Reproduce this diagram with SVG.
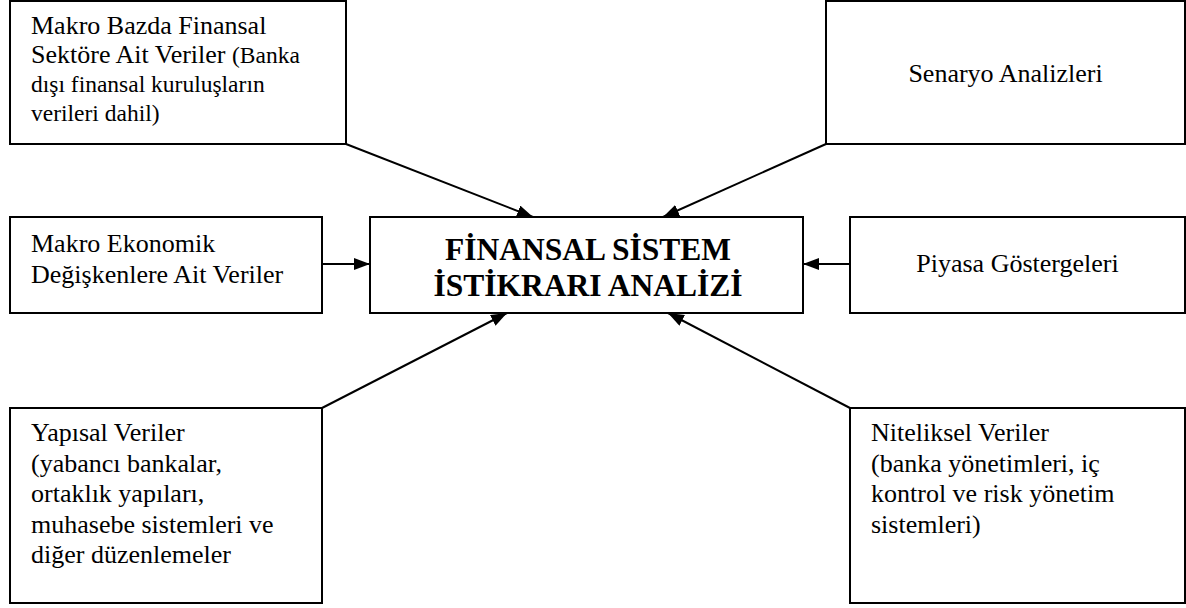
<svg xmlns="http://www.w3.org/2000/svg" width="1186" height="608" viewBox="0 0 1186 608">
<style>
.box{fill:#fff;stroke:#000;stroke-width:2}
.t{font-family:'Liberation Serif','Times New Roman',Times,serif;font-size:26px;fill:#000}
.s{font-size:23.5px}
.b{font-family:'Liberation Serif','Times New Roman',Times,serif;font-size:31.5px;font-weight:bold;fill:#000}
.c{stroke:#000;stroke-width:2;fill:none;marker-end:url(#ah)}
</style>
<defs>
<marker id="ah" markerUnits="userSpaceOnUse" markerWidth="18" markerHeight="14" refX="16" refY="6" orient="auto">
<path d="M0,0 L16,6 L0,12 z" fill="#000"/>
</marker>
</defs>
<rect width="1186" height="608" fill="#fff"/>
<g id="connectors">
<line class="c" x1="346" y1="144" x2="533" y2="217"/>
<line class="c" x1="826" y1="144" x2="663" y2="217"/>
<line class="c" x1="322" y1="264" x2="370" y2="264"/>
<line class="c" x1="850" y1="264" x2="803" y2="264"/>
<line class="c" x1="322" y1="408" x2="507" y2="313"/>
<line class="c" x1="850" y1="408" x2="668" y2="313"/>
</g>
<g id="makro-bazda">
<rect class="box" x="10" y="1" width="336" height="143"/>
<text class="t" x="31" y="34">Makro Bazda Finansal</text>
<text class="t" x="31" y="63">Sektöre Ait Veriler <tspan class="s">(Banka</tspan></text>
<text class="t s" x="31" y="92">dışı finansal kuruluşların</text>
<text class="t s" x="31" y="121">verileri dahil)</text>
</g>
<g id="senaryo">
<rect class="box" x="826" y="1" width="359" height="143"/>
<text class="t" x="1005.5" y="82" text-anchor="middle">Senaryo Analizleri</text>
</g>
<g id="makro-ekonomik">
<rect class="box" x="10" y="217" width="312" height="96"/>
<text class="t" x="31" y="252">Makro Ekonomik</text>
<text class="t" x="31" y="283">Değişkenlere Ait Veriler</text>
</g>
<g id="merkez">
<rect class="box" x="370" y="217" width="433" height="96"/>
<text class="b" x="588" y="260" text-anchor="middle">FİNANSAL SİSTEM</text>
<text class="b" x="588" y="296" text-anchor="middle">İSTİKRARI ANALİZİ</text>
</g>
<g id="piyasa">
<rect class="box" x="850" y="217" width="335" height="96"/>
<text class="t" x="1017.5" y="272" text-anchor="middle">Piyasa Göstergeleri</text>
</g>
<g id="yapisal">
<rect class="box" x="10" y="408" width="312" height="195"/>
<text class="t" x="31" y="441">Yapısal Veriler</text>
<text class="t" x="31" y="471.5">(yabancı bankalar,</text>
<text class="t" x="31" y="502">ortaklık yapıları,</text>
<text class="t" x="31" y="532.5">muhasebe sistemleri ve</text>
<text class="t" x="31" y="563">diğer düzenlemeler</text>
</g>
<g id="niteliksel">
<rect class="box" x="850" y="408" width="335" height="195"/>
<text class="t" x="871" y="441">Niteliksel Veriler</text>
<text class="t" x="871" y="471.5">(banka yönetimleri, iç</text>
<text class="t" x="871" y="502">kontrol ve risk yönetim</text>
<text class="t" x="871" y="532.5">sistemleri)</text>
</g>
</svg>
